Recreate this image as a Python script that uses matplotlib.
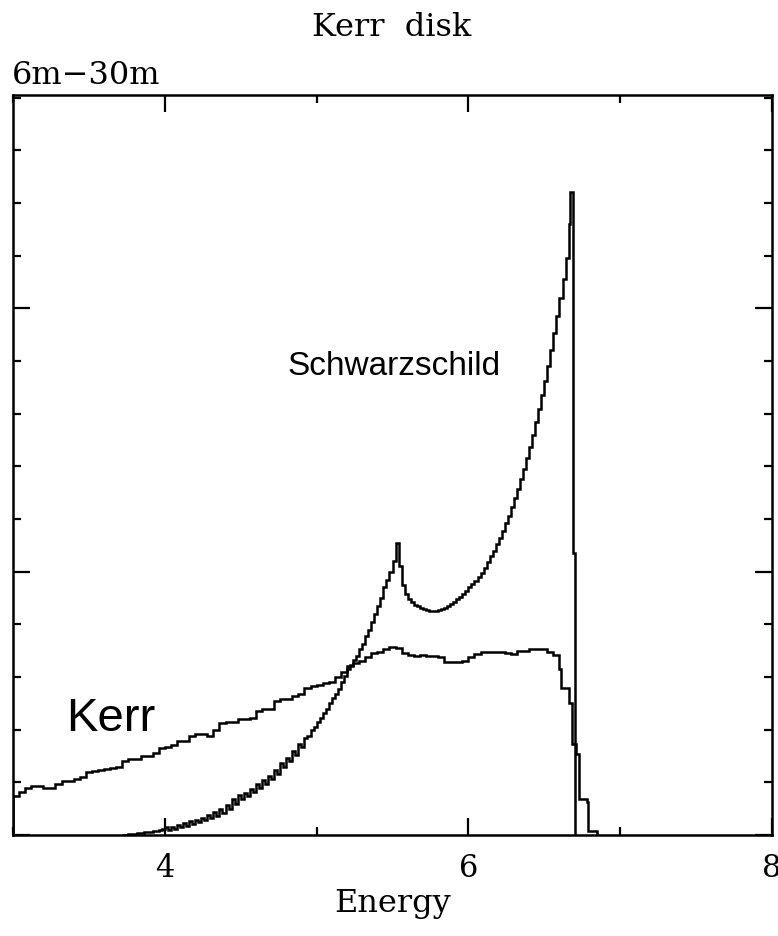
import numpy as np
import matplotlib
matplotlib.use("Agg")
import matplotlib.pyplot as plt
from matplotlib.ticker import MultipleLocator, FixedLocator

# Kerr line profile: 0.04 keV bins starting at 3.00, then an irregular tail
kerr_start, kerr_step = 3.00, 0.04
kerr_vals = [
    0.149, 0.165, 0.180, 0.187, 0.186, 0.180, 0.178, 0.195, 0.206, 0.205,
    0.212, 0.222, 0.240, 0.244, 0.246, 0.250, 0.256, 0.258, 0.280, 0.288,
    0.290, 0.301, 0.300, 0.310, 0.332, 0.335, 0.340, 0.357, 0.358, 0.375,
    0.383, 0.385, 0.376, 0.400, 0.427, 0.428, 0.430, 0.439, 0.440, 0.445,
    0.470, 0.477, 0.480, 0.510, 0.515, 0.518, 0.528, 0.535, 0.560, 0.566,
    0.568, 0.578, 0.580, 0.600, 0.620, 0.640, 0.655, 0.660, 0.675, 0.690,
    0.695, 0.705, 0.713, 0.710, 0.692, 0.685, 0.680, 0.683, 0.680, 0.679,
    0.676, 0.657, 0.657, 0.657, 0.662, 0.675, 0.686, 0.695, 0.695, 0.695,
    0.695, 0.690, 0.686, 0.700, 0.700, 0.705, 0.705, 0.705, 0.695, 0.682,
]
kerr_tail_edges = [6.61, 6.66, 6.68, 6.71, 6.73, 6.78, 6.79, 6.85]
kerr_tail_vals = [0.63, 0.56, 0.50, 0.345, 0.307, 0.136, 0.125, 0.015]

# Schwarzschild line profile: 0.02 keV bins starting at 3.72, then the blue peak
schw_start, schw_step = 3.72, 0.02
schw_vals = [
    0.000, 0.001, 0.002, 0.004, 0.005, 0.007, 0.008, 0.010, 0.011, 0.013,
    0.015, 0.017, 0.019, 0.022, 0.030, 0.020, 0.032, 0.024, 0.038, 0.030,
    0.045, 0.036, 0.052, 0.042, 0.058, 0.048, 0.066, 0.056, 0.076, 0.064,
    0.086, 0.074, 0.098, 0.085, 0.115, 0.098, 0.135, 0.118, 0.150, 0.135,
    0.160, 0.148, 0.176, 0.162, 0.192, 0.178, 0.208, 0.195, 0.225, 0.212,
    0.248, 0.232, 0.272, 0.258, 0.294, 0.280, 0.318, 0.302, 0.345, 0.335,
    0.370, 0.375, 0.400, 0.410, 0.430, 0.445, 0.465, 0.480, 0.500, 0.520,
    0.535, 0.555, 0.580, 0.605, 0.630, 0.645, 0.665, 0.680, 0.705, 0.725,
    0.755, 0.780, 0.810, 0.840, 0.870, 0.900, 0.940, 0.970, 1.000, 1.040,
    1.110, 1.020, 0.950, 0.915, 0.895, 0.885, 0.875, 0.868, 0.862, 0.857,
    0.853, 0.851, 0.850, 0.851, 0.853, 0.857, 0.862, 0.868, 0.876, 0.885,
    0.895, 0.905, 0.916, 0.928, 0.940, 0.953, 0.966, 0.980, 0.996, 1.015,
    1.035, 1.058, 1.080, 1.104, 1.128, 1.155, 1.183, 1.213, 1.245, 1.278,
    1.313, 1.350, 1.390, 1.430, 1.475, 1.520, 1.568, 1.618, 1.670, 1.725,
    1.782, 1.842, 1.905, 1.970, 2.040, 2.110, 2.190,
]
schw_tail_edges = [6.67, 6.69, 6.70]
schw_tail_vals = [2.32, 2.44, 1.07]

xticks_major = [4, 6, 8]
xtick_labels = ["4", "6", "8"]

kerr_edges = np.concatenate([kerr_start + kerr_step * np.arange(len(kerr_vals) + 1),
                             kerr_tail_edges])
schw_edges = np.concatenate([schw_start + schw_step * np.arange(len(schw_vals) + 1),
                             schw_tail_edges])

serif = "DejaVu Serif"

fig = plt.figure(figsize=(7.78, 9.37), dpi=100)
ax = fig.add_axes([0.0167, 0.1078, 0.9756, 0.7897])

ax.stairs(kerr_vals + kerr_tail_vals, kerr_edges, baseline=0, color="black", lw=1.8)
ax.stairs(schw_vals + schw_tail_vals, schw_edges, baseline=0, color="black", lw=1.8)

ax.set_xlim(3, 8)
ax.set_ylim(0, 2.81)

ax.xaxis.set_major_locator(FixedLocator(xticks_major))
ax.set_xticklabels(xtick_labels, family=serif, fontsize=22)
ax.xaxis.set_minor_locator(MultipleLocator(1))
ax.yaxis.set_major_locator(MultipleLocator(1))
ax.yaxis.set_minor_locator(MultipleLocator(0.2))
ax.tick_params(which="both", direction="in", top=True, right=True, width=1.6)
ax.tick_params(which="major", length=12, pad=12)
ax.tick_params(which="minor", length=5.8)
ax.tick_params(axis="y", which="both", labelleft=False)
for s in ax.spines.values():
    s.set_linewidth(1.8)

ax.set_xlabel("Energy", family=serif, fontsize=23, labelpad=3)

ax.text(4.81, 1.75, "Schwarzschild", family="Liberation Sans", fontsize=24,
        ha="left", va="baseline")
ax.text(3.35, 0.40, "Kerr", family="Liberation Sans", fontsize=34,
        ha="left", va="baseline")

fig.text(392 / 778, 1 - 27 / 937, "Kerr  disk", family=serif, fontsize=23,
         ha="center", va="center")
fig.text(12 / 778, 1 - 84 / 937, "6m\u221230m", family=serif, fontsize=23,
         ha="left", va="baseline")

fig.savefig("out.png", dpi=100)
